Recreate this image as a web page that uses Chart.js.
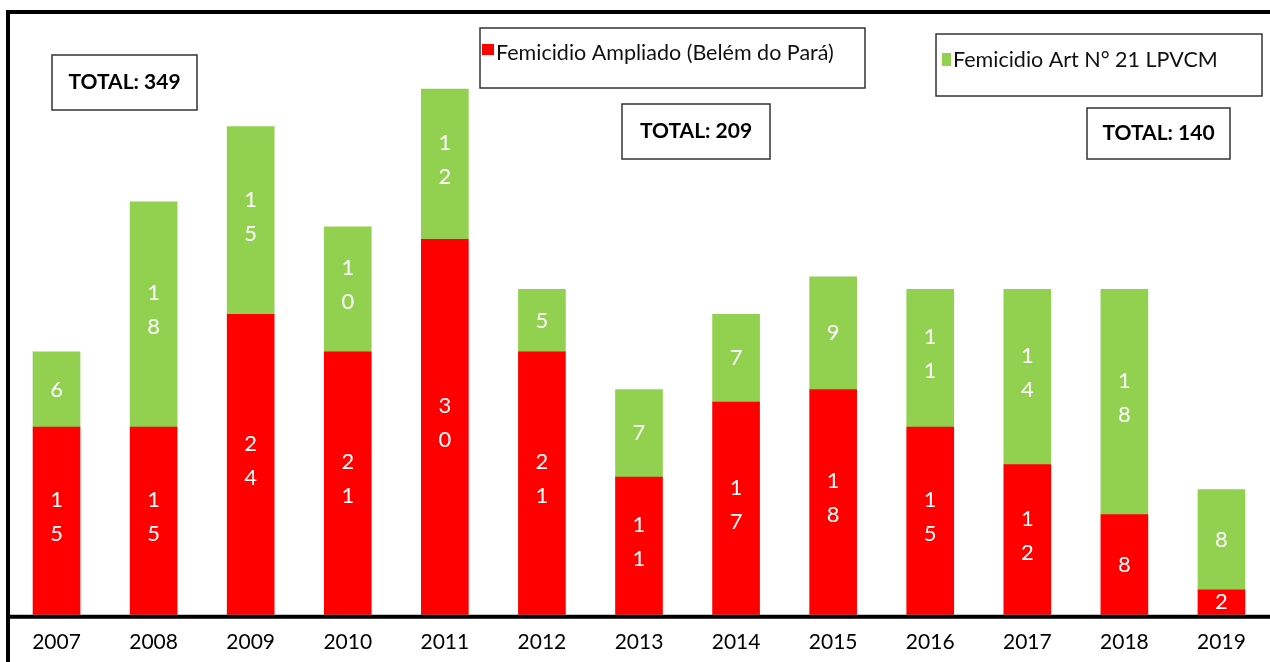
<!DOCTYPE html>
<html>
<head>
<meta charset="utf-8">
<script src="https://cdn.jsdelivr.net/npm/chart.js@4"></script>
<style>
  html, body { margin: 0; padding: 0; background: #fff; }
  #wrap { width: 1270px; height: 662px; }
</style>
</head>
<body>
<div id="wrap"><canvas id="femChart" width="1270" height="662"></canvas></div>
<script>
// datos
var years = ['2007', '2008', '2009', '2010', '2011', '2012', '2013', '2014', '2015', '2016', '2017', '2018', '2019'];
var ampliado = [15, 15, 24, 21, 30, 21, 11, 17, 18, 15, 12, 8, 2];   // Femicidio Ampliado (Belém do Pará)
var art21 = [6, 18, 15, 10, 12, 5, 7, 7, 9, 11, 14, 18, 8];           // Femicidio Art N° 21 LPVCM
var seriesNames = ['Femicidio Ampliado (Belém do Pará)', 'Femicidio Art N° 21 LPVCM'];
var totalLabels = ['TOTAL: 349', 'TOTAL: 209', 'TOTAL: 140'];

var ROJO = '#FF0000';
var VERDE = '#92D050';
var FUENTE = 'Lato, "Noto Sans", sans-serif';

// numeros blancos dentro de cada segmento, un digito por linea
var etiquetas = {
  id: 'etiquetas',
  afterDatasetsDraw: function (chart) {
    var ctx = chart.ctx;
    ctx.save();
    ctx.fillStyle = '#fff';
    ctx.font = '22px ' + FUENTE;
    ctx.textAlign = 'center';
    ctx.textBaseline = 'middle';
    chart.data.datasets.forEach(function (ds, i) {
      chart.getDatasetMeta(i).data.forEach(function (bar, j) {
        var chars = String(ds.data[j]).split('');
        var cy = (bar.y + bar.base) / 2;
        chars.forEach(function (c, k) {
          ctx.fillText(c, bar.x, cy + (k - (chars.length - 1) / 2) * 34 - (chars.length > 1 ? 4 : 0));
        });
      });
    });
    ctx.restore();
  }
};

// marco, leyendas y cuadros de totales
var marco = {
  id: 'marco',
  afterDraw: function (chart) {
    var ctx = chart.ctx;
    var area = chart.chartArea;
    ctx.save();
    ctx.strokeStyle = '#000';
    ctx.lineWidth = 4;
    ctx.beginPath();
    ctx.moveTo(6, 12); ctx.lineTo(1270, 12);
    ctx.moveTo(8, 10); ctx.lineTo(8, 662);
    ctx.moveTo(6, area.bottom + 2); ctx.lineTo(1270, area.bottom + 2);
    ctx.stroke();

    function caja(x1, y1, x2, y2) {
      ctx.lineWidth = 1.5;
      ctx.strokeStyle = '#333';
      ctx.fillStyle = '#fff';
      ctx.fillRect(x1, y1, x2 - x1, y2 - y1);
      ctx.strokeRect(x1, y1, x2 - x1, y2 - y1);
    }

    // leyenda 1
    caja(480, 28, 865, 88);
    ctx.fillStyle = ROJO;
    ctx.fillRect(482, 44, 12, 11);
    ctx.fillStyle = '#111';
    ctx.font = '21.5px ' + FUENTE;
    ctx.textAlign = 'left';
    ctx.textBaseline = 'middle';
    ctx.fillText(seriesNames[0], 496, 53);

    // leyenda 2
    caja(936, 34, 1262, 96);
    ctx.fillStyle = VERDE;
    ctx.fillRect(942, 53, 9, 13);
    ctx.fillStyle = '#111';
    ctx.fillText(seriesNames[1], 953, 60);

    // totales
    var totales = [[52, 55, 197, 110], [622, 104, 770, 159], [1087, 108, 1230, 159]];
    totales.forEach(function (b, i) {
      caja(b[0], b[1], b[2], b[3]);
      ctx.fillStyle = '#000';
      ctx.font = 'bold 21px ' + FUENTE;
      ctx.textAlign = 'center';
      ctx.fillText(totalLabels[i], (b[0] + b[2]) / 2, (b[1] + b[3]) / 2);
    });
    ctx.restore();
  }
};

var ctx = document.getElementById('femChart').getContext('2d');
var femChart = new Chart(ctx, {
  type: 'bar',
  data: {
    labels: years,
    datasets: [
      { label: seriesNames[0], data: ampliado, backgroundColor: ROJO },
      { label: seriesNames[1], data: art21, backgroundColor: VERDE }
    ]
  },
  options: {
    responsive: false,
    animation: false,
    layout: { padding: { top: 14, left: 8, right: 0, bottom: -8 } },
    barThickness: 47,
    scales: {
      x: {
        stacked: true,
        grid: { display: false, drawTicks: false },
        border: { display: false },
        ticks: { color: '#000', padding: 15, font: { family: FUENTE, size: 21 }, maxRotation: 0 }
      },
      y: {
        stacked: true,
        display: false,
        beginAtZero: true,
        max: 48
      }
    },
    plugins: {
      legend: { display: false },
      tooltip: { enabled: false }
    }
  },
  plugins: [etiquetas, marco]
});
</script>
</body>
</html>
